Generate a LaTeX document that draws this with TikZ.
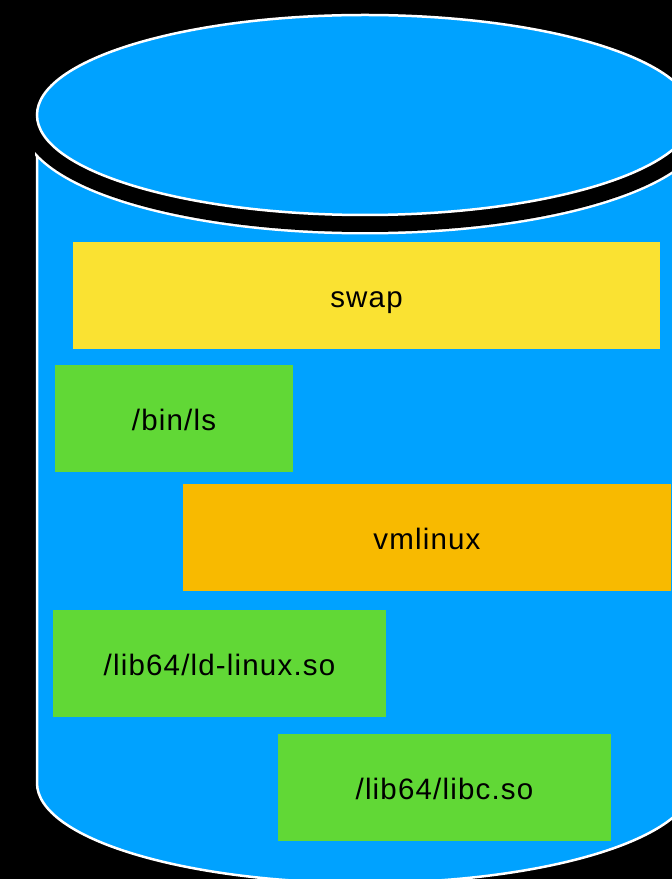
\documentclass[tikz,border=0pt]{standalone}
\usepackage{fontspec}
\setmainfont{Liberation Sans}
\newfontfamily\labelfont[LetterSpace=4]{Liberation Sans}
\definecolor{diskblue}{HTML}{00A2FF}
\definecolor{swapyellow}{HTML}{FAE232}
\definecolor{filegreen}{HTML}{61D836}
\definecolor{kernelorange}{HTML}{F8BA00}
\begin{document}
\begin{tikzpicture}[x=1pt,y=1pt,
  outline/.style={draw=white,line width=2.5pt},
  block/.style={inner sep=0pt,outer sep=0pt,text=black,
    text height=25pt,text depth=0pt,
    font=\labelfont\fontsize{29.5}{34}\selectfont},
]
% canvas
\fill[black] (0,0) rectangle (672,879);
\useasboundingbox (0,0) rectangle (672,879);

% cylinder body: straight sides and a rounded bottom
\path[fill=diskblue,outline]
  (37,764) -- (37,96)
  arc[start angle=180,end angle=360,x radius=328pt,y radius=100pt]
  -- (693,764) -- cycle;

% dark rim separating the lid from the body
\begin{scope}
  \clip (35,0) rectangle (720,764);
  \draw[white,line width=39pt] (365,764) ellipse[x radius=328pt,y radius=100pt];
  \draw[black,line width=34pt] (365,764) ellipse[x radius=328pt,y radius=100pt];
\end{scope}

% lid
\path[fill=diskblue,outline] (365,764) ellipse[x radius=328pt,y radius=100pt];

% contents of the disk
\node[block,fill=swapyellow,minimum width=587pt,minimum height=107pt]
  (swap) at (366.5,583.5) {swap};
\node[block,fill=filegreen,minimum width=238pt,minimum height=107pt]
  (binls) at (174,460.5) {/bin/ls};
\node[block,fill=kernelorange,minimum width=488pt,minimum height=107pt]
  (vmlinux) at (427,341.5) {vmlinux};
\node[block,fill=filegreen,minimum width=333pt,minimum height=107pt]
  (ldlinux) at (219.5,215.5) {/lib64/ld-linux.so};
\node[block,fill=filegreen,minimum width=333pt,minimum height=107pt]
  (libc) at (444.5,91.5) {/lib64/libc.so};
\end{tikzpicture}
\end{document}
